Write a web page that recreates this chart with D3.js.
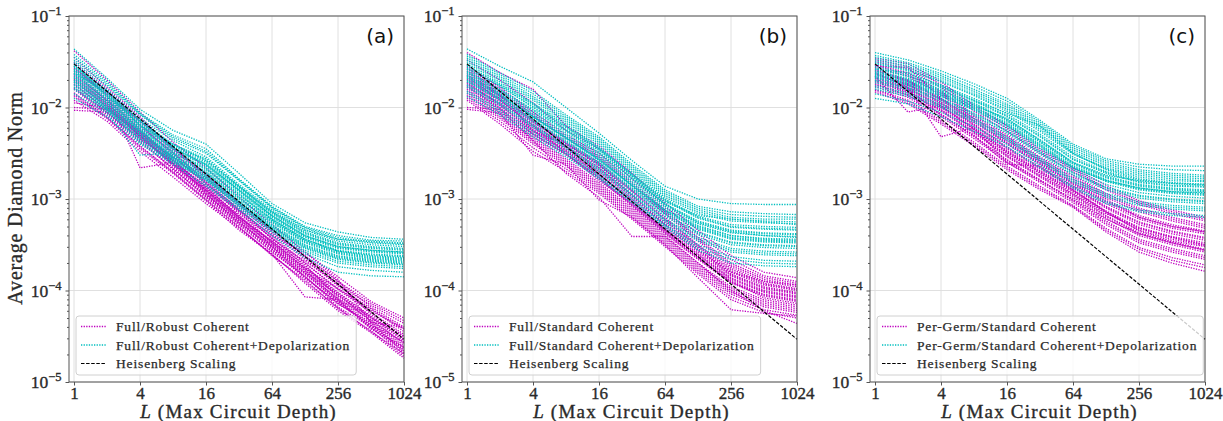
<!DOCTYPE html>
<html>
<head>
<meta charset="utf-8">
<script src="https://cdn.jsdelivr.net/npm/d3@7"></script>
<style>
  body { margin: 0; background: #fff; }
  svg { display: block; }
</style>
</head>
<body>
<div id="chart"></div>
<script>
const WIDTH = 1223
const HEIGHT = 421

const L_VALUES = [1, 2, 4, 8, 16, 32, 64, 128, 256, 512, 1024]
const X_TICKS = [1, 4, 16, 64, 256, 1024]
const Y_TICKS = [1e-5, 1e-4, 1e-3, 1e-2, 1e-1]
const HEISENBERG_L = [1, 1024]
const HEISENBERG = [3.0e-2, 2.93e-5]

const PANEL_LABELS = ['(a)', '(b)', '(c)']
const LEGEND_NAMES = [
  ['Full/Robust Coherent', 'Full/Robust Coherent+Depolarization', 'Heisenberg Scaling'],
  ['Full/Standard Coherent', 'Full/Standard Coherent+Depolarization', 'Heisenberg Scaling'],
  ['Per-Germ/Standard Coherent', 'Per-Germ/Standard Coherent+Depolarization', 'Heisenberg Scaling'],
]

// log10(average diamond norm) at each L, one row per run
const fullRobustCoherent = [
  [-1.38,-1.70,-2.05,-2.38,-2.66,-2.98,-3.28,-3.58,-3.85,-4.12,-4.30],
  [-1.45,-1.78,-2.10,-2.45,-2.72,-3.05,-3.35,-3.62,-3.90,-4.18,-4.40],
  [-1.52,-1.82,-2.15,-2.42,-2.78,-3.08,-3.38,-3.66,-3.95,-4.20,-4.45],
  [-1.55,-1.88,-2.20,-2.50,-2.80,-3.12,-3.40,-3.70,-3.98,-4.22,-4.42],
  [-1.58,-1.85,-2.18,-2.52,-2.84,-3.10,-3.44,-3.68,-3.92,-4.26,-4.50],
  [-1.62,-1.90,-2.22,-2.48,-2.82,-3.16,-3.42,-3.74,-4.02,-4.28,-4.52],
  [-1.65,-1.92,-2.24,-2.58,-2.86,-3.14,-3.48,-3.76,-4.05,-4.30,-4.55],
  [-1.68,-1.96,-2.28,-2.56,-2.90,-3.20,-3.46,-3.72,-4.08,-4.32,-4.58],
  [-1.70,-2.00,-2.26,-2.60,-2.88,-3.18,-3.52,-3.80,-4.04,-4.34,-4.60],
  [-1.72,-1.98,-2.32,-2.62,-2.92,-3.22,-3.50,-3.78,-4.10,-4.36,-4.62],
  [-1.75,-2.02,-2.30,-2.64,-2.95,-3.24,-3.55,-3.82,-4.12,-4.38,-4.65],
  [-1.78,-2.05,-2.35,-2.58,-2.94,-3.26,-3.52,-3.85,-4.15,-4.35,-4.68],
  [-1.80,-2.08,-2.38,-2.66,-2.98,-3.28,-3.58,-3.84,-4.18,-4.40,-4.70],
  [-1.84,-2.10,-2.42,-2.70,-3.00,-3.30,-3.62,-3.88,-4.20,-4.44,-4.72],
  [-1.88,-2.12,-2.45,-2.72,-3.02,-3.34,-3.60,-3.92,-4.22,-4.46,-4.74],
  [-1.92,-2.15,-2.48,-2.76,-3.05,-3.32,-3.60,-4.07,-4.10,-4.42,-4.62],
  [-2.00,-2.02,-2.28,-2.62,-2.90,-3.20,-3.48,-3.78,-4.06,-4.30,-4.50],
  [-2.03,-2.05,-2.35,-2.68,-2.96,-3.25,-3.55,-3.86,-4.14,-4.38,-4.56],
  [-1.60,-1.86,-2.66,-2.60,-2.86,-3.20,-3.46,-3.76,-3.98,-4.20,-4.42],
  [-1.66,-1.95,-2.28,-2.54,-2.82,-3.12,-3.40,-3.58,-3.88,-4.35,-4.40],
  [-1.57,-1.84,-2.16,-2.46,-2.76,-3.06,-3.36,-3.64,-3.94,-4.16,-4.36],
  [-1.63,-1.93,-2.26,-2.54,-2.84,-3.13,-3.43,-3.70,-3.99,-4.24,-4.48],
  [-1.69,-1.97,-2.30,-2.58,-2.88,-3.18,-3.47,-3.75,-4.03,-4.29,-4.54],
  [-1.74,-2.03,-2.33,-2.63,-2.93,-3.23,-3.53,-3.81,-4.09,-4.33,-4.57],
  [-1.79,-2.06,-2.37,-2.67,-2.97,-3.27,-3.57,-3.86,-4.13,-4.39,-4.63],
  [-1.86,-2.11,-2.43,-2.71,-3.01,-3.31,-3.61,-3.90,-4.19,-4.45,-4.69],
  [-1.95,-2.00,-2.31,-2.61,-2.91,-3.22,-3.50,-3.81,-4.11,-4.41,-4.66],
  [-1.50,-1.80,-2.12,-2.44,-2.74,-3.04,-3.33,-3.62,-3.90,-4.14,-4.33],
]
const fullRobustDepol = [
  [-1.36,-1.68,-2.02,-2.25,-2.40,-2.72,-3.05,-3.26,-3.36,-3.42,-3.44],
  [-1.42,-1.72,-2.06,-2.30,-2.45,-2.78,-3.08,-3.30,-3.40,-3.45,-3.46],
  [-1.48,-1.76,-2.08,-2.34,-2.50,-2.80,-3.10,-3.32,-3.44,-3.48,-3.50],
  [-1.50,-1.80,-2.12,-2.36,-2.54,-2.84,-3.12,-3.34,-3.46,-3.50,-3.52],
  [-1.54,-1.82,-2.14,-2.40,-2.56,-2.86,-3.14,-3.36,-3.48,-3.52,-3.54],
  [-1.56,-1.84,-2.16,-2.42,-2.60,-2.88,-3.16,-3.38,-3.50,-3.54,-3.56],
  [-1.58,-1.86,-2.18,-2.44,-2.62,-2.90,-3.18,-3.40,-3.52,-3.56,-3.58],
  [-1.60,-1.88,-2.20,-2.46,-2.64,-2.92,-3.20,-3.42,-3.54,-3.58,-3.60],
  [-1.62,-1.90,-2.22,-2.48,-2.66,-2.94,-3.22,-3.44,-3.56,-3.60,-3.62],
  [-1.64,-1.92,-2.24,-2.50,-2.68,-2.96,-3.22,-3.44,-3.57,-3.62,-3.64],
  [-1.66,-1.94,-2.25,-2.52,-2.70,-2.98,-3.24,-3.46,-3.58,-3.63,-3.65],
  [-1.68,-1.96,-2.26,-2.54,-2.72,-3.00,-3.26,-3.48,-3.60,-3.65,-3.67],
  [-1.70,-1.98,-2.28,-2.55,-2.74,-3.02,-3.28,-3.50,-3.62,-3.66,-3.68],
  [-1.72,-2.00,-2.30,-2.56,-2.76,-3.04,-3.30,-3.52,-3.64,-3.68,-3.70],
  [-1.76,-2.02,-2.34,-2.58,-2.78,-3.06,-3.32,-3.54,-3.66,-3.70,-3.72],
  [-1.80,-2.04,-2.38,-2.60,-2.80,-3.08,-3.34,-3.58,-3.70,-3.74,-3.76],
  [-1.85,-2.06,-2.52,-2.50,-2.84,-3.10,-3.36,-3.60,-3.74,-3.78,-3.80],
  [-1.90,-2.10,-2.40,-2.62,-2.86,-3.12,-3.40,-3.64,-3.80,-3.84,-3.85],
  [-1.62,-1.84,-2.20,-2.40,-2.58,-2.86,-3.14,-3.34,-3.44,-3.46,-3.48],
  [-1.52,-1.88,-2.15,-2.44,-2.62,-2.90,-3.18,-3.40,-3.52,-3.56,-3.58],
  [-1.45,-1.74,-2.07,-2.32,-2.48,-2.79,-3.09,-3.31,-3.42,-3.47,-3.49],
  [-1.55,-1.83,-2.15,-2.41,-2.58,-2.87,-3.15,-3.37,-3.49,-3.53,-3.55],
  [-1.59,-1.87,-2.19,-2.45,-2.63,-2.91,-3.19,-3.41,-3.53,-3.57,-3.59],
  [-1.63,-1.91,-2.23,-2.49,-2.67,-2.95,-3.23,-3.45,-3.57,-3.61,-3.63],
  [-1.67,-1.95,-2.26,-2.53,-2.71,-2.99,-3.25,-3.47,-3.59,-3.64,-3.66],
  [-1.71,-1.99,-2.29,-2.55,-2.75,-3.03,-3.29,-3.51,-3.63,-3.67,-3.69],
  [-1.74,-2.01,-2.32,-2.57,-2.77,-3.05,-3.31,-3.53,-3.65,-3.69,-3.71],
  [-1.78,-2.03,-2.36,-2.59,-2.79,-3.07,-3.33,-3.56,-3.68,-3.72,-3.74],
]
const fullStandardCoherent = [
  [-1.40,-1.62,-1.80,-2.20,-2.42,-2.72,-3.04,-3.34,-3.62,-3.80,-3.86],
  [-1.48,-1.70,-1.95,-2.25,-2.45,-2.78,-3.08,-3.38,-3.66,-3.84,-3.90],
  [-1.54,-1.78,-2.05,-2.30,-2.50,-2.82,-3.12,-3.42,-3.70,-3.86,-3.92],
  [-1.58,-1.82,-2.10,-2.34,-2.55,-2.86,-3.16,-3.46,-3.74,-3.90,-3.96],
  [-1.62,-1.86,-2.14,-2.38,-2.60,-2.90,-3.20,-3.50,-3.76,-3.92,-3.98],
  [-1.65,-1.88,-2.16,-2.40,-2.64,-2.92,-3.24,-3.52,-3.80,-3.94,-4.00],
  [-1.68,-1.90,-2.18,-2.42,-2.66,-2.96,-3.26,-3.54,-3.82,-3.96,-4.02],
  [-1.70,-1.94,-2.22,-2.44,-2.70,-3.00,-3.30,-3.58,-3.84,-3.98,-4.04],
  [-1.72,-1.96,-2.24,-2.46,-2.72,-3.02,-3.32,-3.60,-3.86,-4.00,-4.06],
  [-1.74,-1.98,-2.26,-2.48,-2.74,-3.04,-3.34,-3.62,-3.88,-4.02,-4.08],
  [-1.76,-2.00,-2.28,-2.50,-2.76,-3.06,-3.36,-3.64,-3.90,-4.04,-4.10],
  [-1.78,-2.02,-2.30,-2.52,-2.78,-3.08,-3.38,-3.66,-3.92,-4.06,-4.12],
  [-1.80,-2.04,-2.32,-2.56,-2.82,-3.10,-3.40,-3.70,-3.96,-4.10,-4.16],
  [-1.84,-2.08,-2.36,-2.60,-2.86,-3.14,-3.44,-3.74,-4.00,-4.14,-4.20],
  [-1.88,-2.12,-2.40,-2.64,-2.90,-3.18,-3.48,-3.78,-4.04,-4.18,-4.24],
  [-1.92,-2.18,-2.48,-2.70,-2.94,-3.22,-3.52,-3.82,-4.10,-4.24,-4.30],
  [-2.00,-2.02,-2.36,-2.72,-2.98,-3.41,-3.41,-3.70,-4.00,-4.22,-4.36],
  [-2.02,-2.06,-2.52,-2.62,-3.01,-3.20,-3.50,-3.86,-4.21,-4.25,-4.28],
  [-1.60,-1.84,-2.26,-2.40,-2.62,-2.96,-3.28,-3.56,-3.80,-3.90,-3.94],
  [-1.66,-1.92,-2.20,-2.50,-2.80,-3.05,-3.35,-3.64,-3.90,-4.08,-4.14],
  [-1.56,-1.80,-2.08,-2.32,-2.53,-2.84,-3.14,-3.44,-3.72,-3.88,-3.94],
  [-1.64,-1.87,-2.15,-2.39,-2.62,-2.91,-3.22,-3.51,-3.78,-3.93,-3.99],
  [-1.69,-1.92,-2.20,-2.43,-2.68,-2.98,-3.28,-3.56,-3.83,-3.97,-4.03],
  [-1.73,-1.97,-2.25,-2.47,-2.73,-3.03,-3.33,-3.61,-3.87,-4.01,-4.07],
  [-1.77,-2.01,-2.29,-2.51,-2.77,-3.07,-3.37,-3.65,-3.91,-4.05,-4.11],
  [-1.82,-2.06,-2.34,-2.58,-2.84,-3.12,-3.42,-3.72,-3.98,-4.12,-4.18],
  [-1.86,-2.10,-2.38,-2.62,-2.88,-3.16,-3.46,-3.76,-4.02,-4.16,-4.22],
  [-1.90,-2.15,-2.44,-2.67,-2.92,-3.20,-3.50,-3.80,-4.07,-4.21,-4.27],
]
const fullStandardDepol = [
  [-1.36,-1.55,-1.72,-2.00,-2.28,-2.58,-2.86,-3.00,-3.05,-3.06,-3.06],
  [-1.42,-1.62,-1.82,-2.08,-2.32,-2.62,-2.90,-3.08,-3.14,-3.16,-3.17],
  [-1.46,-1.66,-1.88,-2.12,-2.36,-2.66,-2.94,-3.12,-3.20,-3.22,-3.22],
  [-1.50,-1.70,-1.92,-2.16,-2.40,-2.70,-2.98,-3.16,-3.24,-3.26,-3.27],
  [-1.54,-1.74,-1.96,-2.20,-2.44,-2.72,-3.00,-3.19,-3.28,-3.30,-3.31],
  [-1.57,-1.77,-1.99,-2.22,-2.46,-2.74,-3.02,-3.21,-3.31,-3.33,-3.34],
  [-1.60,-1.80,-2.02,-2.25,-2.49,-2.77,-3.05,-3.24,-3.34,-3.37,-3.38],
  [-1.62,-1.82,-2.05,-2.28,-2.52,-2.80,-3.08,-3.27,-3.37,-3.40,-3.41],
  [-1.64,-1.84,-2.07,-2.30,-2.54,-2.82,-3.10,-3.29,-3.40,-3.43,-3.44],
  [-1.66,-1.86,-2.09,-2.32,-2.56,-2.84,-3.12,-3.31,-3.42,-3.45,-3.46],
  [-1.68,-1.88,-2.11,-2.34,-2.58,-2.86,-3.14,-3.33,-3.44,-3.47,-3.48],
  [-1.70,-1.90,-2.13,-2.36,-2.60,-2.88,-3.16,-3.36,-3.47,-3.50,-3.51],
  [-1.72,-1.92,-2.16,-2.39,-2.63,-2.91,-3.19,-3.39,-3.50,-3.53,-3.54],
  [-1.75,-1.95,-2.19,-2.42,-2.66,-2.94,-3.22,-3.42,-3.54,-3.57,-3.58],
  [-1.78,-1.98,-2.22,-2.45,-2.70,-2.97,-3.25,-3.46,-3.58,-3.61,-3.62],
  [-1.82,-2.02,-2.26,-2.49,-2.74,-3.00,-3.28,-3.50,-3.63,-3.67,-3.68],
  [-1.88,-2.08,-2.32,-2.54,-2.78,-3.04,-3.31,-3.56,-3.70,-3.73,-3.74],
  [-1.58,-1.76,-2.00,-2.24,-2.47,-2.75,-3.06,-3.26,-3.36,-3.40,-3.42],
  [-1.52,-1.72,-1.95,-2.18,-2.43,-2.75,-3.03,-3.18,-3.22,-3.25,-3.28],
  [-1.65,-1.85,-2.10,-2.33,-2.57,-2.85,-3.12,-3.30,-3.40,-3.44,-3.45],
  [-1.44,-1.64,-1.85,-2.10,-2.34,-2.64,-2.92,-3.10,-3.17,-3.19,-3.20],
  [-1.48,-1.68,-1.90,-2.14,-2.38,-2.68,-2.96,-3.14,-3.22,-3.24,-3.25],
  [-1.55,-1.75,-1.97,-2.21,-2.45,-2.73,-3.01,-3.20,-3.30,-3.32,-3.33],
  [-1.61,-1.81,-2.03,-2.26,-2.50,-2.78,-3.06,-3.25,-3.35,-3.38,-3.39],
  [-1.67,-1.87,-2.10,-2.33,-2.57,-2.85,-3.13,-3.32,-3.43,-3.46,-3.47],
  [-1.71,-1.91,-2.14,-2.37,-2.61,-2.89,-3.17,-3.37,-3.48,-3.51,-3.52],
  [-1.76,-1.96,-2.20,-2.43,-2.68,-2.95,-3.23,-3.44,-3.56,-3.59,-3.60],
  [-1.84,-2.05,-2.29,-2.51,-2.76,-3.02,-3.29,-3.53,-3.66,-3.70,-3.71],
]
const perGermCoherent = [
  [-1.46,-1.52,-1.72,-1.98,-2.20,-2.45,-2.66,-2.85,-3.02,-3.12,-3.20],
  [-1.50,-1.58,-1.78,-2.04,-2.26,-2.50,-2.70,-2.90,-3.06,-3.16,-3.24],
  [-1.53,-1.62,-1.82,-2.08,-2.30,-2.54,-2.74,-2.94,-3.10,-3.20,-3.28],
  [-1.56,-1.66,-1.86,-2.12,-2.34,-2.58,-2.78,-2.98,-3.14,-3.24,-3.32],
  [-1.58,-1.70,-1.90,-2.14,-2.38,-2.60,-2.82,-3.02,-3.18,-3.28,-3.35],
  [-1.60,-1.72,-1.92,-2.16,-2.40,-2.62,-2.84,-3.05,-3.22,-3.32,-3.38],
  [-1.62,-1.74,-1.94,-2.18,-2.43,-2.65,-2.86,-3.08,-3.25,-3.35,-3.42],
  [-1.64,-1.76,-1.96,-2.20,-2.45,-2.67,-2.88,-3.10,-3.28,-3.38,-3.45],
  [-1.66,-1.78,-1.98,-2.22,-2.47,-2.69,-2.90,-3.13,-3.31,-3.41,-3.48],
  [-1.68,-1.80,-2.00,-2.24,-2.49,-2.71,-2.92,-3.15,-3.34,-3.44,-3.51],
  [-1.70,-1.82,-2.02,-2.26,-2.52,-2.74,-2.95,-3.18,-3.37,-3.47,-3.55],
  [-1.72,-1.84,-2.04,-2.28,-2.54,-2.76,-2.98,-3.21,-3.40,-3.50,-3.58],
  [-1.74,-1.86,-2.07,-2.31,-2.57,-2.79,-3.01,-3.24,-3.44,-3.54,-3.62],
  [-1.77,-1.89,-2.10,-2.34,-2.60,-2.82,-3.04,-3.28,-3.48,-3.58,-3.66],
  [-1.80,-1.92,-2.14,-2.38,-2.64,-2.86,-3.07,-3.32,-3.53,-3.64,-3.72],
  [-1.83,-1.96,-2.18,-2.42,-2.68,-2.90,-3.09,-3.36,-3.58,-3.70,-3.79],
  [-1.66,-2.05,-1.98,-2.24,-2.50,-2.72,-2.94,-3.16,-3.32,-3.42,-3.50],
  [-1.62,-1.78,-2.32,-2.22,-2.60,-2.80,-3.00,-3.22,-3.38,-3.48,-3.56],
  [-1.55,-1.56,-1.90,-2.12,-2.36,-2.58,-2.80,-3.00,-3.20,-3.30,-3.36],
  [-1.70,-1.80,-2.08,-2.30,-2.62,-2.64,-2.90,-3.14,-3.35,-3.46,-3.52],
  [-1.48,-1.55,-1.75,-2.01,-2.23,-2.47,-2.68,-2.88,-3.04,-3.14,-3.22],
  [-1.54,-1.64,-1.84,-2.10,-2.32,-2.56,-2.76,-2.96,-3.12,-3.22,-3.30],
  [-1.59,-1.71,-1.91,-2.15,-2.39,-2.61,-2.83,-3.03,-3.20,-3.30,-3.36],
  [-1.63,-1.75,-1.95,-2.19,-2.44,-2.66,-2.87,-3.09,-3.26,-3.36,-3.43],
  [-1.67,-1.79,-1.99,-2.23,-2.48,-2.70,-2.91,-3.14,-3.32,-3.42,-3.50],
  [-1.71,-1.83,-2.03,-2.27,-2.53,-2.75,-2.96,-3.19,-3.38,-3.48,-3.56],
  [-1.75,-1.87,-2.08,-2.32,-2.58,-2.80,-3.02,-3.26,-3.46,-3.56,-3.64],
  [-1.81,-1.94,-2.16,-2.40,-2.66,-2.88,-3.08,-3.34,-3.55,-3.67,-3.75],
]
const perGermDepol = [
  [-1.40,-1.48,-1.60,-1.74,-1.90,-2.14,-2.40,-2.56,-2.62,-2.64,-2.64],
  [-1.45,-1.53,-1.65,-1.80,-1.96,-2.18,-2.44,-2.60,-2.68,-2.72,-2.74],
  [-1.49,-1.57,-1.69,-1.84,-2.00,-2.22,-2.48,-2.64,-2.72,-2.76,-2.78],
  [-1.52,-1.60,-1.72,-1.87,-2.04,-2.26,-2.51,-2.67,-2.76,-2.80,-2.81],
  [-1.55,-1.63,-1.75,-1.90,-2.07,-2.29,-2.54,-2.70,-2.79,-2.83,-2.84],
  [-1.58,-1.66,-1.78,-1.93,-2.10,-2.32,-2.57,-2.72,-2.82,-2.86,-2.87],
  [-1.60,-1.68,-1.80,-1.95,-2.13,-2.35,-2.60,-2.75,-2.84,-2.88,-2.90],
  [-1.62,-1.70,-1.82,-1.97,-2.15,-2.38,-2.62,-2.77,-2.86,-2.90,-2.92],
  [-1.64,-1.72,-1.84,-1.99,-2.17,-2.40,-2.64,-2.79,-2.88,-2.92,-2.94],
  [-1.66,-1.74,-1.86,-2.01,-2.19,-2.42,-2.66,-2.81,-2.90,-2.94,-2.96],
  [-1.68,-1.76,-1.88,-2.03,-2.22,-2.45,-2.68,-2.84,-2.93,-2.97,-2.99],
  [-1.70,-1.78,-1.90,-2.06,-2.25,-2.48,-2.71,-2.87,-2.96,-3.00,-3.02],
  [-1.73,-1.81,-1.93,-2.09,-2.28,-2.51,-2.74,-2.90,-2.99,-3.03,-3.05],
  [-1.76,-1.84,-1.96,-2.12,-2.32,-2.55,-2.78,-2.94,-3.03,-3.07,-3.09],
  [-1.80,-1.88,-2.00,-2.16,-2.36,-2.59,-2.82,-2.98,-3.07,-3.11,-3.13],
  [-1.85,-1.93,-2.05,-2.21,-2.40,-2.63,-2.86,-3.03,-3.12,-3.16,-3.18],
  [-1.90,-1.96,-2.10,-2.26,-2.43,-2.66,-2.88,-3.05,-3.14,-3.18,-3.20],
  [-1.58,-1.62,-1.76,-1.92,-2.06,-2.20,-2.50,-2.68,-2.78,-2.82,-2.84],
  [-1.63,-1.71,-1.83,-1.98,-2.12,-2.36,-2.60,-2.74,-2.80,-2.83,-2.85],
  [-1.67,-1.75,-1.87,-2.02,-2.20,-2.43,-2.66,-2.80,-2.88,-2.92,-2.93],
  [-1.43,-1.51,-1.63,-1.77,-1.93,-2.16,-2.42,-2.58,-2.65,-2.68,-2.69],
  [-1.47,-1.55,-1.67,-1.82,-1.98,-2.20,-2.46,-2.62,-2.70,-2.74,-2.76],
  [-1.51,-1.59,-1.71,-1.86,-2.02,-2.24,-2.50,-2.66,-2.74,-2.78,-2.80],
  [-1.57,-1.65,-1.77,-1.92,-2.09,-2.31,-2.56,-2.71,-2.81,-2.85,-2.86],
  [-1.61,-1.69,-1.81,-1.96,-2.14,-2.37,-2.61,-2.76,-2.85,-2.89,-2.91],
  [-1.65,-1.73,-1.85,-2.00,-2.18,-2.41,-2.65,-2.80,-2.89,-2.93,-2.95],
  [-1.71,-1.79,-1.91,-2.07,-2.26,-2.49,-2.72,-2.88,-2.97,-3.01,-3.03],
  [-1.78,-1.86,-1.98,-2.14,-2.34,-2.57,-2.80,-2.96,-3.05,-3.09,-3.11],
]

const COHERENT = [fullRobustCoherent, fullStandardCoherent, perGermCoherent]
const DEPOL = [fullRobustDepol, fullStandardDepol, perGermDepol]

// layout
const PANEL_LEFT = [69, 462, 870]
const PANEL_WIDTH = 335
const PLOT_TOP = 16
const PLOT_BOTTOM = 382
const MAGENTA = '#bf00bf'
const CYAN = '#00bfbf'
const SPINE = '#555'
const TEXT = '#2a2a2a'
const SERIF = "'Liberation Serif', 'Times New Roman', serif"
const DOTS = '1.3,1.3'

const svg = d3.select('#chart')
  .append('svg')
  .attr('width', WIDTH)
  .attr('height', HEIGHT)
  .attr('viewBox', `0 0 ${WIDTH} ${HEIGHT}`)

// slightly heavier serif, closer to the LaTeX look
function serif(sel, size) {
  sel.attr('font-family', SERIF)
    .attr('font-size', size)
    .attr('fill', TEXT)
    .attr('stroke', TEXT)
    .attr('stroke-width', 0.35)
}

function drawPanel(i) {
  const x0 = PANEL_LEFT[i]
  const x1 = x0 + PANEL_WIDTH
  const x = d3.scaleLog().base(2).domain([0.9, 1024]).range([x0, x1])
  const y = d3.scaleLog().domain([1e-5, 1e-1]).range([PLOT_BOTTOM, PLOT_TOP])

  const g = svg.append('g')

  // grid
  g.append('g').selectAll('line').data(X_TICKS).join('line')
    .attr('x1', d => x(d)).attr('x2', d => x(d))
    .attr('y1', PLOT_TOP).attr('y2', PLOT_BOTTOM)
    .attr('stroke', '#dcdcdc').attr('stroke-width', 0.9)
  g.append('g').selectAll('line').data(Y_TICKS).join('line')
    .attr('x1', x0).attr('x2', x1)
    .attr('y1', d => y(d)).attr('y2', d => y(d))
    .attr('stroke', '#dcdcdc').attr('stroke-width', 0.9)

  const line = d3.line()
    .x((d, j) => x(L_VALUES[j]))
    .y(d => y(Math.pow(10, d)))

  g.append('g').selectAll('path').data(COHERENT[i]).join('path')
    .attr('d', line)
    .attr('fill', 'none')
    .attr('stroke', MAGENTA)
    .attr('stroke-width', 1.3)
    .attr('stroke-dasharray', DOTS)

  g.append('g').selectAll('path').data(DEPOL[i]).join('path')
    .attr('d', line)
    .attr('fill', 'none')
    .attr('stroke', CYAN)
    .attr('stroke-width', 1.3)
    .attr('stroke-dasharray', DOTS)

  const hLine = d3.line().x((d, j) => x(HEISENBERG_L[j])).y(d => y(d))
  g.append('path')
    .attr('d', hLine(HEISENBERG))
    .attr('fill', 'none')
    .attr('stroke', '#000')
    .attr('stroke-width', 1.2)
    .attr('stroke-dasharray', '3.5,1.6')

  // frame
  g.append('rect')
    .attr('x', x0).attr('y', PLOT_TOP)
    .attr('width', PANEL_WIDTH).attr('height', PLOT_BOTTOM - PLOT_TOP)
    .attr('fill', 'none').attr('stroke', SPINE).attr('stroke-width', 1)

  // x axis
  const xAxis = g.append('g')
    .attr('transform', `translate(0,${PLOT_BOTTOM})`)
    .call(d3.axisBottom(x).tickValues(X_TICKS).tickFormat(d3.format('d')).tickSizeOuter(0).tickSize(3.5).tickPadding(1))
  xAxis.select('.domain').remove()
  xAxis.attr('color', SPINE)
  xAxis.selectAll('text').call(serif, 17)

  // y axis: minor ticks
  const minor = []
  for (let e = -5; e < -1; e++) {
    for (let m = 2; m <= 9; m++) minor.push(m * Math.pow(10, e))
  }
  const yMinor = g.append('g')
    .attr('transform', `translate(${x0},0)`)
    .call(d3.axisLeft(y).tickValues(minor).tickFormat('').tickSizeOuter(0).tickSize(2))
  yMinor.select('.domain').remove()
  yMinor.attr('color', SPINE)

  const yAxis = g.append('g')
    .attr('transform', `translate(${x0},0)`)
    .call(d3.axisLeft(y).tickValues(Y_TICKS).tickSizeOuter(0).tickSize(3.5).tickPadding(4))
  yAxis.select('.domain').remove()
  yAxis.attr('color', SPINE)
  yAxis.selectAll('.tick text')
    .text('')
    .call(serif, 17.5)
    .attr('dy', '0.33em')
    .each(function (d) {
      const t = d3.select(this)
      t.append('tspan').text('10')
      t.append('tspan')
        .attr('dy', '-0.55em')
        .attr('font-size', 12.5)
        .text('\u2212' + Math.round(-Math.log10(d)))
    })

  // panel label
  g.append('text')
    .attr('x', x1 - 10)
    .attr('y', 43)
    .attr('text-anchor', 'end')
    .attr('font-family', "'DejaVu Sans', sans-serif")
    .attr('font-size', 20)
    .attr('fill', '#111')
    .text(PANEL_LABELS[i])

  // x label
  const xl = g.append('text')
    .attr('x', (x0 + x1) / 2 + 2)
    .attr('y', 418)
    .attr('text-anchor', 'middle')
    .attr('letter-spacing', 1.2)
    .call(serif, 19)
  xl.append('tspan').attr('font-style', 'italic').text('L')
  xl.append('tspan').text(' (Max Circuit Depth)')

  // legend
  const lg = g.append('g').attr('transform', `translate(${x0 + 7},316)`)
  const box = lg.append('rect')
    .attr('rx', 3).attr('ry', 3)
    .attr('height', 59)
    .attr('fill', '#fff').attr('fill-opacity', 0.8)
    .attr('stroke', '#d0d0d0').attr('stroke-width', 1)
  const styles = [
    { color: MAGENTA, dash: DOTS, w: 1.3 },
    { color: CYAN, dash: DOTS, w: 1.3 },
    { color: '#000', dash: '3.5,1.6', w: 1.2 },
  ]
  let maxW = 0
  LEGEND_NAMES[i].forEach((name, k) => {
    const cy = 10.5 + k * 18.5
    lg.append('line')
      .attr('x1', 5).attr('x2', 30)
      .attr('y1', cy).attr('y2', cy)
      .attr('stroke', styles[k].color)
      .attr('stroke-width', styles[k].w)
      .attr('stroke-dasharray', styles[k].dash)
    const t = lg.append('text')
      .attr('x', 40).attr('y', cy + 4.5)
      .attr('letter-spacing', 0.85)
      .call(serif, 13.5)
      .attr('stroke-width', 0.25)
      .text(name)
    maxW = Math.max(maxW, t.node().getComputedTextLength())
  })
  box.attr('width', 40 + maxW + 6)
}

for (let i = 0; i < 3; i++) drawPanel(i)

// y label
svg.append('text')
  .attr('transform', 'translate(22,198) rotate(-90)')
  .attr('text-anchor', 'middle')
  .attr('letter-spacing', 0.8)
  .call(serif, 20)
  .text('Average Diamond Norm')
</script>
</body>
</html>
